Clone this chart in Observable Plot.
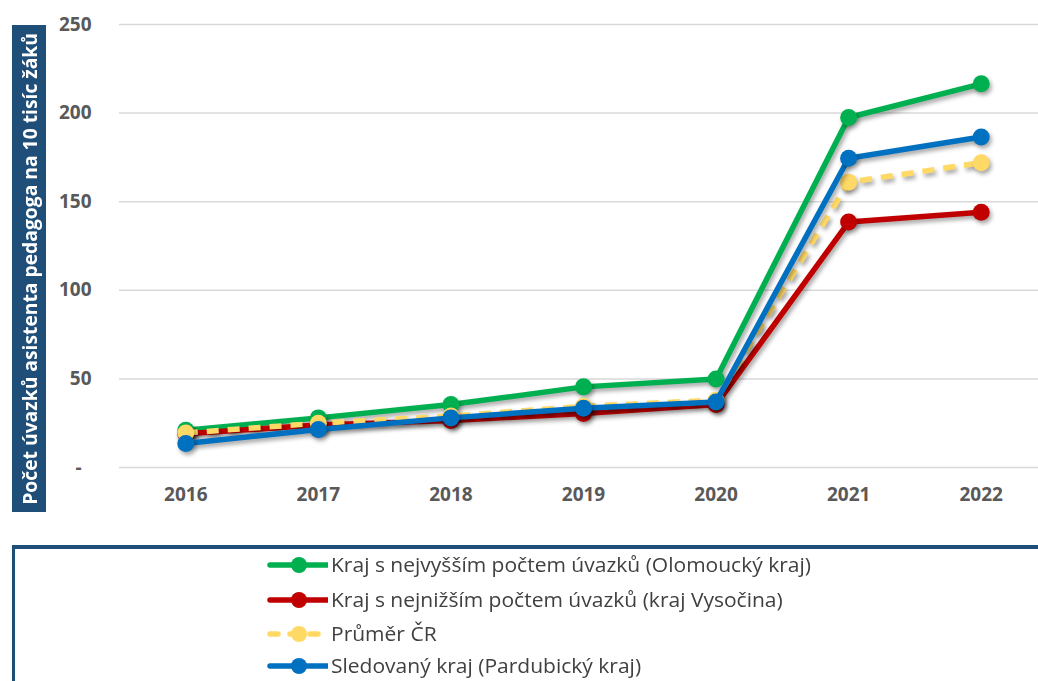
<!DOCTYPE html>
<html>
<head>
<meta charset="utf-8">
<script src="https://cdn.jsdelivr.net/npm/d3@7"></script>
<script src="https://cdn.jsdelivr.net/npm/@observablehq/plot@0.6"></script>
<style>
  html, body { margin: 0; padding: 0; background: #fff; }
  #wrap { position: relative; width: 1038px; height: 681px; overflow: hidden; font-family: "Open Sans", "Liberation Sans", sans-serif; }
  #ylab { position: absolute; left: 12px; top: 25px; width: 34px; height: 487px; background: #1F4E79; color: #fff;
          display: flex; align-items: center; justify-content: center; }
  #ylab span { writing-mode: vertical-rl; transform: rotate(180deg); font-weight: bold; font-size: 19.3px; white-space: nowrap; font-family: "Open Sans", sans-serif; }
  #chart { position: absolute; left: 0; top: 0; }
  #chart g[aria-label="line"], #chart g[aria-label="dot"] { filter: drop-shadow(2px 3px 2px rgba(0,0,0,0.35)); }
  #legend { position: absolute; left: 12px; top: 545px; width: 1040px; height: 150px; border-top: 4px solid #1F4E79; border-left: 3px solid #1F4E79; box-sizing: border-box; }
  .row { position: absolute; left: 250px; height: 30px; display: flex; align-items: center; }
  .row span { font-family: "Open Sans", sans-serif; font-size: 20px; line-height: 20px; color: #404040; margin-left: 3px; white-space: nowrap; transform-origin: left center; display: inline-block; }
</style>
</head>
<body>
<div id="wrap">
  <div id="chart"></div>
  <div id="ylab"><span>Počet úvazků asistenta pedagoga na 10 tisíc žáků</span></div>
  <div id="legend"></div>
</div>
<script>
const years = [2016, 2017, 2018, 2019, 2020, 2021, 2022];
const seriesNames = [
  "Kraj s nejvyšším počtem úvazků (Olomoucký kraj)",
  "Kraj s nejnižším počtem úvazků (kraj Vysočina)",
  "Průměr ČR",
  "Sledovaný kraj (Pardubický kraj)"
];
const olomoucky = [21, 28, 35.5, 45.5, 50, 197.5, 216.5];
const vysocina  = [19, 24, 26.5, 30.5, 35.5, 138.5, 144];
const prumerCR  = [19.5, 25, 29, 34.5, 38, 161, 172];
const pardubicky = [13.5, 21.5, 28, 33.5, 37, 174.5, 186.5];
const seriesValues = [olomoucky, vysocina, prumerCR, pardubicky];
const colors = ["#00B050", "#C00000", "#FFD966", "#0070C0"];
const dashes = [null, null, "12,9", null];
const yTicks = [0, 50, 100, 150, 200, 250];

const marks = [
  Plot.ruleY(yTicks, {stroke: "#d9d9d9", strokeWidth: 1.5}),
  Plot.axisY({ticks: yTicks, tickSize: 0, tickPadding: 28, tickFormat: d => d === 0 ? "-  " : d,
               fontSize: 19, fontWeight: "bold", fill: "#595959", label: null}),
  Plot.axisX({ticks: years, tickSize: 0, tickPadding: 20, tickFormat: d => String(d),
              fontSize: 19, fontWeight: "bold", fill: "#595959", label: null})
];
seriesValues.forEach((vals, i) => {
  const data = years.map((yr, j) => ({year: yr, value: vals[j]}));
  marks.push(Plot.line(data, {x: "year", y: "value", stroke: colors[i], strokeWidth: 5.5,
                              strokeDasharray: dashes[i] || undefined, strokeLinecap: "butt"}));
  marks.push(Plot.dot(data, {x: "year", y: "value", r: 8.5, fill: colors[i], stroke: "none"}));
});

const plot = Plot.plot({
  width: 1038,
  height: 530,
  marginLeft: 119,
  marginRight: 0,
  marginTop: 24,
  marginBottom: 63,
  style: {fontFamily: "'Open Sans', sans-serif", background: "transparent", overflow: "visible"},
  x: {domain: [2015.5, 2022.5], range: [119, 1047]},
  y: {domain: [0, 250]},
  marks
});
document.getElementById("chart").appendChild(plot);

// legend
const ctx = document.createElement("canvas").getContext("2d");
ctx.font = "20px 'Open Sans'";
const sx = 480 / ctx.measureText(seriesNames[0]).width;
const legend = document.getElementById("legend");
const rowTops = [1, 36, 70, 102];
seriesNames.forEach((name, i) => {
  const row = document.createElement("div");
  row.className = "row";
  row.style.top = rowTops[i] + "px";
  const sw = d3.create("svg").attr("width", 63).attr("height", 30);
  sw.append("line").attr("x1", 5).attr("x2", 62).attr("y1", 15).attr("y2", 15)
    .attr("stroke", colors[i]).attr("stroke-width", 5.5).attr("stroke-linecap", "round")
    .attr("stroke-dasharray", dashes[i] ? "8,12" : null);
  sw.append("circle").attr("cx", 34).attr("cy", 15).attr("r", 8).attr("fill", colors[i]);
  row.appendChild(sw.node());
  const t = document.createElement("span");
  t.textContent = name;
  t.style.transform = `scaleX(${sx})`;
  row.appendChild(t);
  legend.appendChild(row);
});
</script>
</body>
</html>
